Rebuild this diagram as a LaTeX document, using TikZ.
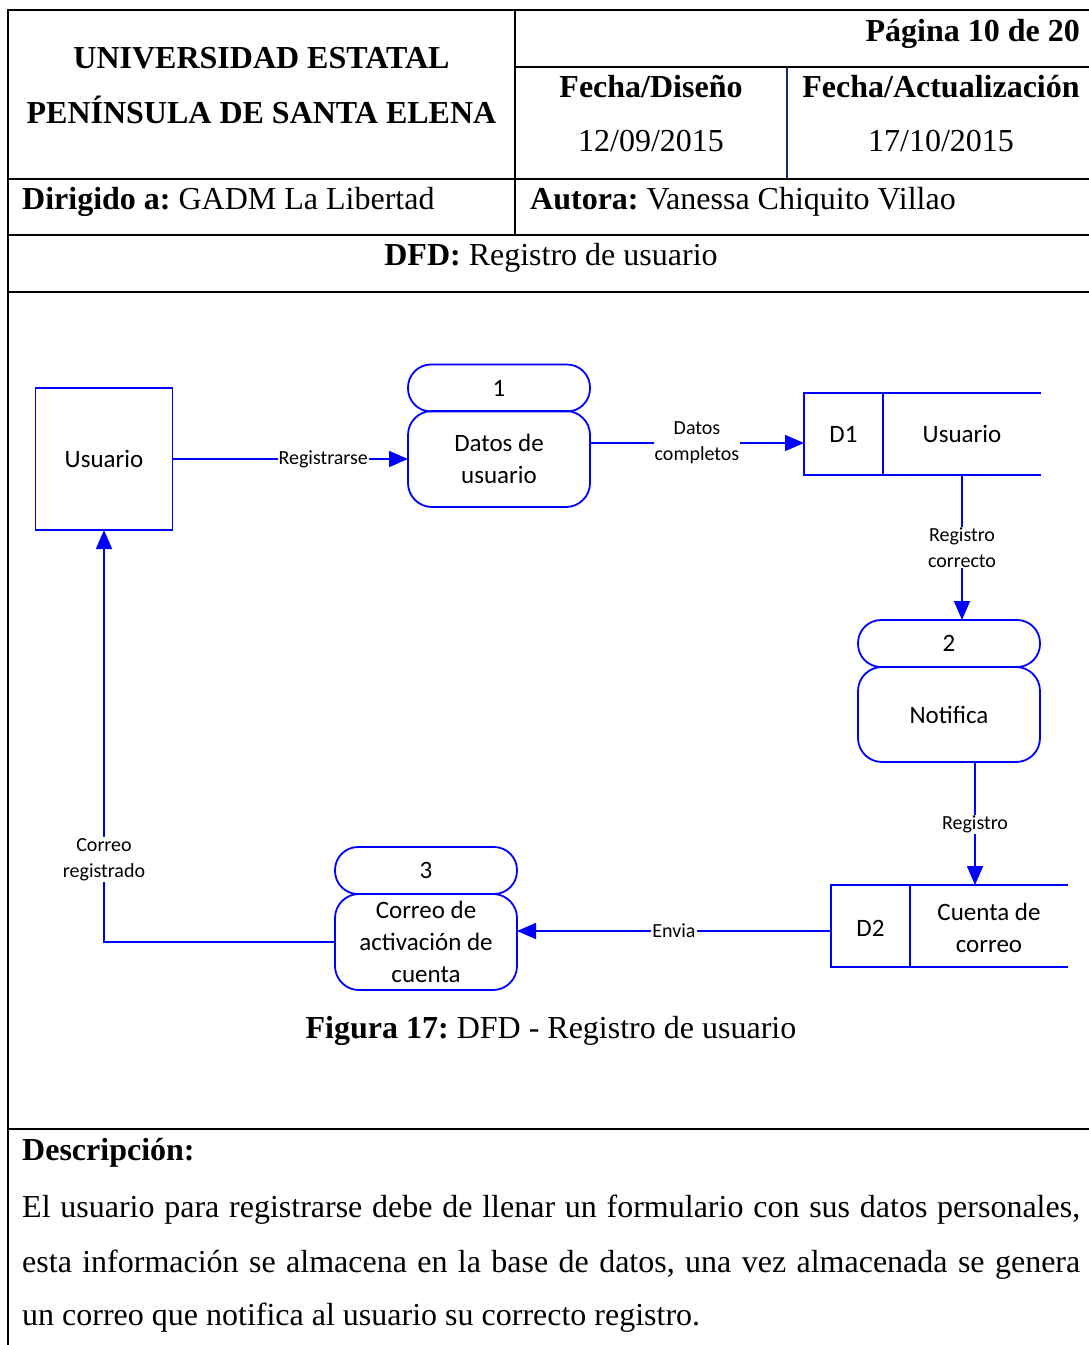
\documentclass[tikz,border=0pt]{standalone}
\usepackage{fontspec}
\setmainfont{Liberation Serif}
\newfontfamily\dfdfont{Carlito}
\usetikzlibrary{arrows.meta}
\frenchspacing

% text sizes
\newcommand\doctxt{\fontsize{32}{38}\selectfont}
\newcommand\proctxt{\dfdfont\fontsize{25}{32}\selectfont}
\newcommand\lbltxt{\dfdfont\fontsize{20}{26}\selectfont}

\definecolor{dfdblue}{RGB}{0,0,255}
\definecolor{ruleblue}{RGB}{20,40,110}

\tikzset{
  rule/.style={draw=black, line width=2.2pt},
  txt/.style={inner sep=0pt, font=\doctxt},
  dfd/.style={draw=dfdblue, line width=1.8pt},
  ent/.style={dfd, minimum width=137pt, minimum height=142pt, inner sep=0pt, outer sep=0pt, font=\proctxt},
  pill/.style={dfd, rounded corners=23pt, minimum width=182pt, minimum height=47pt, inner sep=0pt, outer sep=0pt, font=\proctxt},
  pbody/.style={dfd, rounded corners=24pt, minimum width=182pt, minimum height=96pt, inner sep=0pt, outer sep=0pt, font=\proctxt, align=center},
  storebox/.style={minimum width=237pt, minimum height=82pt, inner sep=0pt, outer sep=0pt},
  stxt/.style={font=\proctxt, align=center, inner sep=0pt},
  flow/.style={draw=dfdblue, line width=1.8pt, -{Triangle[length=19pt,width=16pt]}},
  lbl/.style={font=\lbltxt, fill=white, inner sep=1pt, align=center, text=black},
}

\begin{document}
\begin{tikzpicture}[x=1pt,y=-1pt]
\useasboundingbox (0,0) rectangle (1089,1345);

% ---------- header table ----------
\draw[rule] (8,1345) -- (8,10) -- (1089,10);
\draw[rule] (515,10) -- (515,235);
\draw[rule] (515,67) -- (1089,67);
\draw[draw=ruleblue, line width=2pt] (787,67) -- (787,179);
\draw[rule] (8,179) -- (1089,179);
\draw[rule] (8,235) -- (1089,235);
\draw[rule] (8,292) -- (1089,292);
\draw[rule] (8,1129) -- (1089,1129);

\node[txt, anchor=base] (uni1) at (261.5,68) {\textbf{UNIVERSIDAD ESTATAL}};
\node[txt, anchor=base] (uni2) at (261.5,123) {\textbf{PENÍNSULA DE SANTA ELENA}};
\node[txt, anchor=base east] (pag) at (1080,41) {\textbf{Página 10 de 20}};
\node[txt, anchor=base] (fd) at (651,97) {\textbf{Fecha/Diseño}};
\node[txt, anchor=base] (fdv) at (651,151) {12/09/2015};
\node[txt, anchor=base] (fa) at (941,97) {\textbf{Fecha/Actualización}};
\node[txt, anchor=base] (fav) at (941,151) {17/10/2015};
\node[txt, anchor=base west] (dir) at (22,209) {\textbf{Dirigido a:} GADM La Libertad};
\node[txt, anchor=base west] (aut) at (530,209) {\textbf{Autora:} Vanessa Chiquito Villao};
\node[txt, anchor=base] (dfdt) at (551,265) {\textbf{DFD:} Registro de usuario};

% ---------- data flow diagram ----------
\node[ent] (usr) at (104,459) {Usuario};

\node[pill]  (p1n) at (499,388) {1};
\node[pbody] (p1)  at (499,459) {Datos de\\usuario};

\node[pill]  (p2n) at (949,643.5) {2};
\node[pbody, minimum height=95pt] (p2) at (949,714.5) {Notifica};

\node[pill]  (p3n) at (426,870.5) {3};
\node[pbody] (p3)  at (426,942) {Correo de\\activación de\\cuenta};

% data store D1
\node[storebox] (d1) at (922.5,434) {};
\draw[dfd] (d1.north east) -- (d1.north west) -- (d1.south west) -- (d1.south east);
\draw[dfd] ([xshift=79pt]d1.north west) -- ([xshift=79pt]d1.south west);
\node[stxt] (d1id) at (843.5,434) {D1};
\node[stxt] (d1nm) at (962,434) {Usuario};

% data store D2
\node[storebox] (d2) at (949.5,926) {};
\draw[dfd] (d2.north east) -- (d2.north west) -- (d2.south west) -- (d2.south east);
\draw[dfd] ([xshift=79pt]d2.north west) -- ([xshift=79pt]d2.south west);
\node[stxt] (d2id) at (870.5,928) {D2};
\node[stxt] (d2nm) at (989,928) {Cuenta de\\correo};

% flows
\draw[flow] (usr.east) -- node[lbl, pos=0.64] {Registrarse} (p1.west);

\coordinate (c0) at ([yshift=-9pt]d1.west);
\draw[flow] (p1.east |- c0) -- node[lbl] {Datos\\completos} (c0);

\coordinate (c1) at ([xshift=13pt]p2n.north);
\draw[flow] (c1 |- d1.south) -- node[lbl] {Registro\\correcto} (c1);

\coordinate (c2) at ([xshift=26pt]p2.south);
\draw[flow] (c2) -- node[lbl, pos=0.51] {Registro} (c2 |- d2.north);

\coordinate (c3) at ([yshift=-5pt]d2.west);
\draw[flow] (c3) -- node[lbl] {Envia} (p3.east |- c3);

\draw[flow] (p3.west) -| node[lbl, pos=0.6] {Correo\\registrado} (usr.south);

\node[txt, anchor=base] (cap) at (551,1038) {\textbf{Figura 17:} DFD - Registro de usuario};

% ---------- description ----------
\node[txt, anchor=base west] (desc) at (22,1160) {\textbf{Descripción:}};
\node[txt, anchor=base west] (l1) at (22,1217) {\makebox[1058pt][s]{El usuario para registrarse debe de llenar un formulario con sus datos personales,}};
\node[txt, anchor=base west] (l2) at (22,1272) {\makebox[1058pt][s]{esta información se almacena en la base de datos, una vez almacenada se genera}};
\node[txt, anchor=base west] (l3) at (22,1325) {un correo que notifica al usuario su correcto registro.};
\end{tikzpicture}
\end{document}
